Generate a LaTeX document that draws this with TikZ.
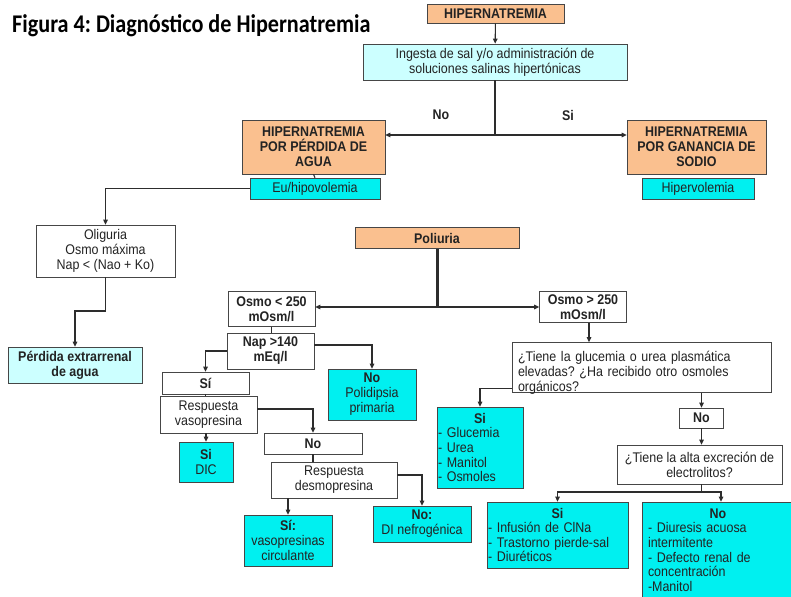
\documentclass[tikz,border=0pt]{standalone}
\usepackage{fontspec}
\setmainfont{Liberation Sans}[FakeStretch=0.89]
\newfontfamily\titlefont{Carlito}[FakeStretch=0.87]
\usetikzlibrary{arrows.meta}
\frenchspacing
\definecolor{orangec}{RGB}{250,192,143}
\definecolor{lcyanc}{RGB}{204,255,255}
\definecolor{cyanc}{RGB}{0,240,240}
\definecolor{bordc}{RGB}{70,70,70}
\definecolor{linec}{RGB}{45,45,45}
\definecolor{txtc}{RGB}{35,35,35}
\newcommand\fs{\fontsize{14}{15}\selectfont}
\newcommand\fl{\fontsize{14}{14.6}\selectfont}
\begin{document}
\begin{tikzpicture}[x=1pt,y=-1pt,
  base/.style={draw=bordc, line width=0.7pt, inner sep=1pt, align=center, text=txtc, font=\fs},
  orangebox/.style={base, fill=orangec, font=\fs\bfseries},
  lcyanbox/.style={base, fill=lcyanc},
  cyanbox/.style={base, fill=cyanc},
  whitebox/.style={base, fill=white},
  sz/.style 2 args={minimum width=#1pt, minimum height=#2pt},
  conn/.style={draw=linec, line width=1.1pt},
  thickconn/.style={draw=linec, line width=3pt},
  arr/.style={conn, -{Triangle[length=5pt,width=4.5pt]}},
  lbl/.style={inner sep=0pt, text=txtc, font=\fs\bfseries}
]
\useasboundingbox (0,0) rectangle (791,596);
\clip (0,0) rectangle (791,596);
\fill[white] (0,0) rectangle (791,596);

\node[anchor=base west, inner sep=0pt, text=black, font=\titlefont\bfseries\fontsize{25.5}{28}\selectfont] (title) at (12,33) {Figura 4: Diagnóstico de Hipernatremia};

% top part
\node[orangebox, sz={137}{19}] (hiper) at (495.5,13.5) {HIPERNATREMIA};
\node[lcyanbox, sz={264}{36}] (ingesta) at (495,62) {Ingesta de sal y/o administración de\\soluciones salinas hipertónicas};
\node[orangebox, sz={143}{54}] (perdida) at (313.5,147) {HIPERNATREMIA\\POR PÉRDIDA DE\\AGUA};
\node[orangebox, sz={139}{54}] (ganancia) at (696.5,147) {HIPERNATREMIA\\POR GANANCIA DE\\SODIO};
\node[cyanbox, sz={130}{21}] (eu) at (315,188.5) {Eu/hipovolemia};
\node[cyanbox, sz={112}{21}] (hipervol) at (698,188.5) {Hipervolemia};
\node[lbl] (lno) at (441,115) {No};
\node[lbl] (lsi) at (568,115) {Si};

% left branch
\node[whitebox, sz={139}{52}] (oliguria) at (105.5,251) {Oliguria\\Osmo máxima\\Nap < (Nao + Ko)};
\node[lcyanbox, sz={134}{36}, font=\fs\bfseries] (extrarrenal) at (75,365) {Pérdida extrarrenal\\de agua};

% poliuria
\node[orangebox, sz={164}{21}] (poliuria) at (437,238) {Poliuria};
\node[whitebox, sz={87}{35}, font=\fs\bfseries] (osmolow) at (271.5,309) {Osmo < 250\\mOsm/l};
\node[whitebox, sz={87}{31}, font=\fs\bfseries] (osmohigh) at (583,307) {Osmo > 250\\mOsm/l};
\node[whitebox, sz={87}{36}, font=\fs\bfseries] (nap) at (270.5,351) {Nap >140\\mEq/l};
\node[whitebox, sz={87}{22}, font=\fs\bfseries] (si1) at (205.5,383) {Sí};
\node[cyanbox, sz={88}{51}] (poli) at (372,394.5) {\textbf{No}\\Polidipsia\\primaria};
\node[whitebox, sz={97}{37}] (respvaso) at (208.5,414.5) {Respuesta\\vasopresina};
\node[cyanbox, sz={54}{40}] (sidic) at (206,462) {\textbf{Si}\\DIC};
\node[whitebox, sz={98}{21}, font=\fs\bfseries] (no1) at (313,443.5) {No};
\node[whitebox, sz={126}{36}] (desmo) at (334,480) {Respuesta\\desmopresina};
\node[cyanbox, sz={88}{51}] (sivaso) at (288,540.5) {\textbf{Sí:}\\vasopresinas\\circulante};
\node[cyanbox, sz={98}{36}] (nefro) at (422,524) {\textbf{No:}\\DI nefrogénica};

% right branch
\node[whitebox, sz={259}{50}, text width=247pt, align=left, inner xsep=6pt] (glucq) at (641.5,367.5) {\raisebox{-6pt}[\height][\depth]{\begin{tabular}{@{}l@{}}¿Tiene la glucemia o urea plasmática\\elevadas? ¿Ha recibido otro osmoles\\orgánicos?\end{tabular}}};
\node[cyanbox, sz={86}{81}, text width=84pt, align=left, font=\fl] (sigluc) at (480,447.5) {\makebox[84pt]{\textbf{Si}}\\- Glucemia\\- Urea\\- Manitol\\- Osmoles};
\node[whitebox, sz={44}{20}, font=\fs\bfseries] (no2) at (701.5,418) {No};
\node[whitebox, sz={165}{39}] (alta) at (699.5,464.5) {¿Tiene la alta excreción de\\electrolitos?};
\node[cyanbox, sz={141}{66}, text width=139pt, align=left, font=\fl, inner sep=1pt] (sibox) at (557.5,535) {\makebox[139pt]{\textbf{Si}}\\- Infusión de ClNa\\- Trastorno pierde-sal\\- Diuréticos};
\node[cyanbox, sz={158}{96}, text width=146pt, align=left, font=\fl, inner xsep=6pt] (nobox) at (721,550) {\makebox[146pt]{\hspace*{-6pt}\textbf{No}}\\- Diuresis acuosa\\intermitente\\- Defecto renal de\\concentración\\-Manitol};

% connectors top
\coordinate (s1) at (495,135);
\draw[arr] (hiper) -- (ingesta);
\draw[conn] (ingesta.south) -- (s1);
\draw[arr] (s1) -- (s1 -| perdida.east);
\draw[arr] (s1) -- (s1 -| ganancia.west);
\draw[conn] (perdida.south) -- (eu.north);
\draw[arr] (eu.west) -| (oliguria.north);
\coordinate (o1) at (105.5,311);
\draw[arr] (oliguria.south) -- (o1) -| (extrarrenal.north);

% poliuria connectors
\coordinate (p1) at (437,307);
\draw[thickconn] (poliuria.south) -- (p1);
\draw[arr] (p1) -- (p1 -| osmolow.east);
\draw[arr] (p1) -- (p1 -| osmohigh.west);
\draw[conn] (osmolow.south) -- (osmolow.south |- nap.north);
\draw[arr] (nap.west) -| (si1.north);
\draw[arr] ([yshift=6pt]nap.east) -| (poli.north);
\draw[conn] (si1.south) -- (si1.south |- respvaso.north);
\draw[arr] (sidic.north |- respvaso.south) -- (sidic.north);
\draw[arr] ([yshift=5.5pt]respvaso.east) -| (no1.north);
\draw[conn] (no1.south) -- (no1.south |- desmo.north);
\draw[arr] (sivaso.north |- desmo.south) -- (sivaso.north);
\draw[arr] ([yshift=5pt]desmo.east) -| (nefro.north);

% right connectors
\draw[arr] ([xshift=6pt]osmohigh.south) -- ([xshift=6pt]osmohigh.south |- glucq.north);
\draw[arr] ([yshift=-21pt]glucq.west) -| (sigluc.north);
\draw[arr] (no2.north |- glucq.south) -- (no2.north);
\draw[arr] (no2.south) -- (no2.south |- alta.north);
\coordinate (a1) at (701.5,492);
\draw[conn] (alta.south -| a1) -- (a1);
\draw[arr] (a1) -| (sibox.north);
\draw[arr] (a1) -| (nobox.north);
\end{tikzpicture}
\end{document}
